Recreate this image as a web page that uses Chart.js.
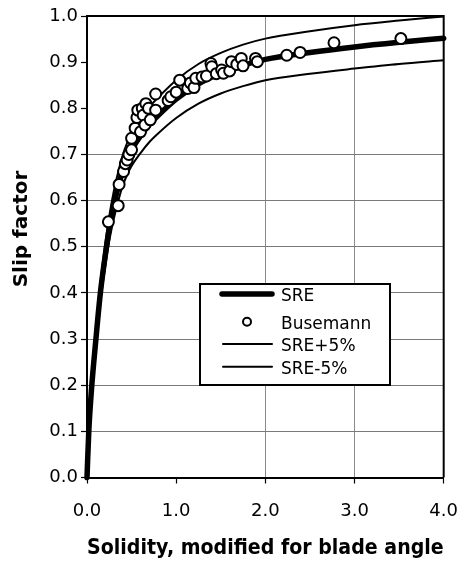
<!DOCTYPE html>
<html>
<head>
<meta charset="utf-8">
<title>Slip factor vs solidity</title>
<script src="https://cdn.jsdelivr.net/npm/chart.js@4.4.1/dist/chart.umd.min.js"></script>
<style>
    html, body { margin: 0; padding: 0; background: #fff; }
    #wrap { position: relative; width: 475px; height: 562px; }
</style>
</head>
<body>
<div id="wrap"><canvas id="slipChart"></canvas></div>
<script>
const curveX = [0, 0.02, 0.05, 0.1, 0.15, 0.2, 0.25, 0.3, 0.35, 0.4, 0.45, 0.5, 0.6, 0.7, 0.8,
    1.0, 1.25, 1.5, 1.75, 2.0, 2.5, 3.0, 3.5, 4.0];
const sre = [0, 0.10, 0.19, 0.30, 0.40, 0.475, 0.54, 0.59, 0.63, 0.665, 0.69, 0.71, 0.74, 0.765, 0.785,
    0.82, 0.853, 0.876, 0.893, 0.906, 0.921, 0.933, 0.943, 0.952];
const srePlus = [0, 0.105, 0.20, 0.315, 0.42, 0.499, 0.567, 0.62, 0.662, 0.698, 0.725, 0.746, 0.777, 0.803, 0.824,
    0.861, 0.896, 0.92, 0.938, 0.951, 0.967, 0.98, 0.99, 0.999];
const sreMinus = [0, 0.095, 0.18, 0.285, 0.38, 0.451, 0.513, 0.56, 0.599, 0.632, 0.656, 0.675, 0.703, 0.727, 0.746,
    0.779, 0.81, 0.832, 0.848, 0.861, 0.875, 0.886, 0.896, 0.904];

// Busemann points
const busemannX = [0.24, 0.35, 0.36, 0.41, 0.43, 0.45, 0.47, 0.50, 0.50, 0.54, 0.56, 0.57, 0.60, 0.62, 0.63,
    0.65, 0.66, 0.69, 0.71, 0.77, 0.77, 0.91, 0.94, 1.00, 1.04, 1.13, 1.16, 1.20, 1.22, 1.29,
    1.34, 1.39, 1.40, 1.45, 1.51, 1.53, 1.60, 1.62, 1.68, 1.73, 1.75, 1.89, 1.91, 2.24, 2.39,
    2.77, 3.52];
const busemannY = [0.554, 0.589, 0.635, 0.663, 0.68, 0.688, 0.70, 0.71, 0.735, 0.757, 0.78, 0.796, 0.749, 0.80, 0.785,
    0.764, 0.81, 0.80, 0.775, 0.831, 0.796, 0.817, 0.825, 0.835, 0.861, 0.843, 0.855, 0.845, 0.865, 0.868,
    0.87, 0.897, 0.89, 0.875, 0.883, 0.876, 0.881, 0.901, 0.895, 0.908, 0.892, 0.908, 0.901, 0.915, 0.921,
    0.942, 0.951];

const xTicks = [0, 1, 2, 3, 4];
const xGridLines = [2, 3];          // only these vertical grid lines show
const yGridMax = 0.7;               // horizontal grid lines stop above 0.7

const FONT = "'DejaVu Sans', 'Liberation Sans', sans-serif";

const toPoints = (xs, ys) => xs.map((x, i) => ({ x: x, y: ys[i] }));

// top + right edges of the plot frame
const framePlugin = {
    id: 'frame',
    beforeDatasetsDraw(chart) {
        const { ctx, chartArea: a } = chart;
        ctx.save();
        ctx.strokeStyle = '#000';
        ctx.lineWidth = 2;
        ctx.beginPath();
        ctx.moveTo(a.left, a.top);
        ctx.lineTo(a.right, a.top);
        ctx.lineTo(a.right, a.bottom);
        ctx.stroke();
        ctx.restore();
    }
};

// boxed legend sitting inside the plot, plus the rotated y title
const boxLegendPlugin = {
    id: 'boxLegend',
    afterDraw(chart) {
        const { ctx, chartArea: a } = chart;
        const left = a.left + 113, top = a.top + 268, w = 190, h = 101;
        const rows = [278, 305.7, 328, 350.7];   // offsets from chart top

        ctx.save();
        ctx.fillStyle = '#fff';
        ctx.fillRect(left, top, w, h);
        ctx.strokeStyle = '#000';
        ctx.lineWidth = 2;
        ctx.strokeRect(left, top, w, h);

        ctx.font = '17px ' + FONT;
        ctx.textBaseline = 'middle';
        ctx.textAlign = 'left';
        chart.data.datasets.forEach((ds, i) => {
            const y = a.top + rows[i];
            if (ds.showLine === false) {
                ctx.beginPath();
                ctx.arc(left + 47, y, 4, 0, Math.PI * 2);
                ctx.fillStyle = '#fff';
                ctx.fill();
                ctx.lineWidth = 2;
                ctx.strokeStyle = '#000';
                ctx.stroke();
            } else {
                ctx.beginPath();
                ctx.moveTo(left + (ds.borderWidth > 2 ? 22 : 23), y);
                ctx.lineTo(left + 72, y);
                ctx.lineWidth = ds.borderWidth;
                ctx.lineCap = 'round';
                ctx.strokeStyle = '#000';
                ctx.stroke();
            }
            ctx.fillStyle = '#000';
            ctx.fillText(ds.label, left + 81, y + 2.5);
        });

        // y axis title
        ctx.translate(21.5, 229);
        ctx.rotate(-Math.PI / 2);
        ctx.textAlign = 'center';
        ctx.font = 'bold 20px ' + FONT;
        ctx.fillText('Slip factor', 0, 0);
        ctx.restore();
    }
};

const ctx = document.getElementById('slipChart').getContext('2d');
const slipChart = new Chart(ctx, {
    type: 'scatter',
    data: {
        datasets: [
            {
                label: 'SRE',
                data: toPoints(curveX, sre),
                showLine: true,
                borderColor: '#000',
                borderWidth: 5.5,
                borderCapStyle: 'round',
                pointRadius: 0,
                cubicInterpolationMode: 'monotone',
                clip: false,
                order: 2
            },
            {
                label: 'Busemann',
                data: toPoints(busemannX, busemannY),
                showLine: false,
                pointRadius: 5.5,
                pointBorderWidth: 2,
                pointBackgroundColor: '#fff',
                pointBorderColor: '#000',
                order: 0
            },
            {
                label: 'SRE+5%',
                data: toPoints(curveX, srePlus),
                showLine: true,
                borderColor: '#000',
                borderWidth: 2,
                pointRadius: 0,
                cubicInterpolationMode: 'monotone',
                order: 1
            },
            {
                label: 'SRE-5%',
                data: toPoints(curveX, sreMinus),
                showLine: true,
                borderColor: '#000',
                borderWidth: 2,
                pointRadius: 0,
                cubicInterpolationMode: 'monotone',
                order: 1
            }
        ]
    },
    options: {
        responsive: true,
        maintainAspectRatio: false,
        animation: false,
        layout: { padding: { top: 16, right: 22, left: 0, bottom: 0 } },
        plugins: {
            legend: { display: false },
            tooltip: { enabled: false }
        },
        scales: {
            x: {
                type: 'linear',
                min: 0,
                max: 4,
                afterFit(scale) { scale.height = 84.5; },
                afterBuildTicks(scale) { scale.ticks = xTicks.map(v => ({ value: v })); },
                border: { color: '#000', width: 2 },
                grid: {
                    color: c => xGridLines.includes(c.tick && c.tick.value) ? '#8a8a8a' : 'rgba(0,0,0,0)',
                    lineWidth: 1,
                    tickColor: '#000',
                    tickLength: 6,
                    tickWidth: 1.2
                },
                ticks: {
                    color: '#000',
                    padding: 17,
                    font: { family: FONT, size: 18 },
                    callback: v => Number(v).toFixed(1)
                },
                title: {
                    display: true,
                    text: 'Solidity, modified for blade angle',
                    color: '#000',
                    font: { family: FONT, size: 21, weight: 'bold' },
                    padding: { top: 0, bottom: 1 }
                }
            },
            y: {
                type: 'linear',
                min: 0,
                max: 1,
                afterFit(scale) { scale.width = 87; },
                border: { color: '#000', width: 2 },
                grid: {
                    color: c => (c.tick && c.tick.value > 0.05 && c.tick.value < yGridMax + 0.05) ? '#7a7a7a' : 'rgba(0,0,0,0)',
                    lineWidth: 1,
                    tickColor: '#000',
                    tickLength: 6,
                    tickWidth: 1.2
                },
                ticks: {
                    stepSize: 0.1,
                    color: '#000',
                    padding: 3,
                    font: { family: FONT, size: 18 },
                    callback: v => Number(v).toFixed(1)
                }
            }
        }
    },
    plugins: [framePlugin, boxLegendPlugin]
});
</script>
</body>
</html>
